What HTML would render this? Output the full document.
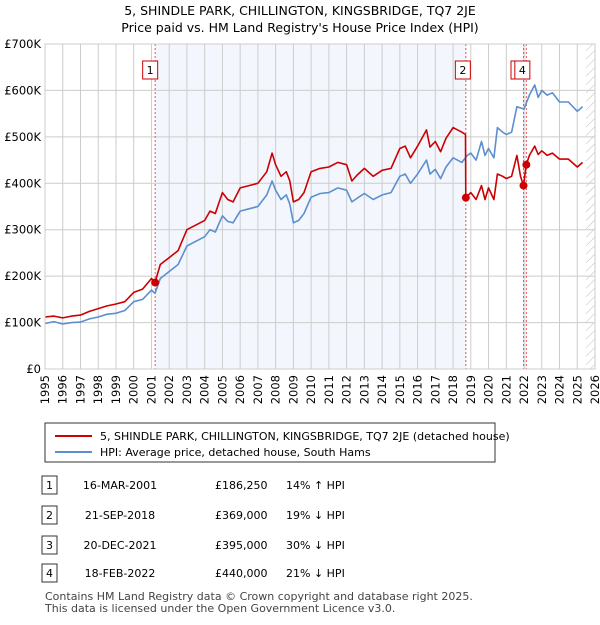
<!DOCTYPE html>
<html><head><meta charset="utf-8"><style>
body{margin:0;background:#fff;font-family:"Liberation Sans","DejaVu Sans",sans-serif;}
svg text{font-family:"DejaVu Sans","Liberation Sans",sans-serif;}
</style></head><body>
<svg id="c" width="600" height="620" xmlns="http://www.w3.org/2000/svg">
<text x="300" y="15" text-anchor="middle" font-size="12.5">5, SHINDLE PARK, CHILLINGTON, KINGSBRIDGE, TQ7 2JE</text>
<text x="300" y="32" text-anchor="middle" font-size="12.5">Price paid vs. HM Land Registry's House Price Index (HPI)</text>
<g id="plot"></g>
<g>
<rect x="45" y="423" width="450" height="39" fill="#fff" stroke="#333" stroke-width="1"/>
<line x1="55" y1="436" x2="92" y2="436" stroke="#cc0000" stroke-width="2"/>
<text x="100" y="440" font-size="11">5, SHINDLE PARK, CHILLINGTON, KINGSBRIDGE, TQ7 2JE (detached house)</text>
<line x1="55" y1="452" x2="92" y2="452" stroke="#5b8fd0" stroke-width="2"/>
<text x="100" y="456" font-size="11">HPI: Average price, detached house, South Hams</text>
</g>
<g id="tbl" font-size="11"></g>
<text x="45" y="600" font-size="11" fill="#444">Contains HM Land Registry data © Crown copyright and database right 2025.</text>
<text x="45" y="612" font-size="11" fill="#444">This data is licensed under the Open Government Licence v3.0.</text>
</svg>
<script>
const hpiYears=[1995,1995.5,1996,1996.5,1997,1997.5,1998,1998.5,1999,1999.5,2000,2000.5,2001,2001.2,2001.5,2002,2002.5,2003,2003.5,2004,2004.3,2004.6,2005,2005.3,2005.6,2006,2006.5,2007,2007.5,2007.8,2008,2008.3,2008.6,2008.8,2009,2009.3,2009.6,2010,2010.5,2011,2011.5,2012,2012.3,2012.6,2013,2013.5,2014,2014.5,2015,2015.3,2015.6,2016,2016.5,2016.7,2017,2017.3,2017.6,2018,2018.5,2018.8,2019,2019.3,2019.6,2019.8,2020,2020.3,2020.5,2020.8,2021,2021.3,2021.6,2022,2022.3,2022.6,2022.8,2023,2023.3,2023.6,2024,2024.5,2025,2025.3];
const hpiValues=[98,102,97,100,101,108,112,118,120,126,145,150,170,163,195,210,225,265,275,285,300,295,330,318,315,340,345,350,375,405,385,365,375,355,315,320,335,370,378,380,390,385,360,368,378,365,375,380,415,420,400,420,450,420,430,410,435,455,445,460,465,450,490,460,475,455,520,510,505,510,565,560,590,612,585,600,590,595,575,575,555,565];
const ppYears=[1995,1995.5,1996,1996.5,1997,1997.5,1998,1998.5,1999,1999.5,2000,2000.5,2001,2001.2,2001.5,2002,2002.5,2003,2003.5,2004,2004.3,2004.6,2005,2005.3,2005.6,2006,2006.5,2007,2007.5,2007.8,2008,2008.3,2008.6,2008.8,2009,2009.3,2009.6,2010,2010.5,2011,2011.5,2012,2012.3,2012.6,2013,2013.5,2014,2014.5,2015,2015.3,2015.6,2016,2016.5,2016.7,2017,2017.3,2017.6,2018,2018.5,2018.7,2018.72,2019,2019.3,2019.6,2019.8,2020,2020.3,2020.5,2020.8,2021,2021.3,2021.6,2021.8,2021.97,2022.13,2022.3,2022.6,2022.8,2023,2023.3,2023.6,2024,2024.5,2025,2025.3];
const ppValues=[112,114,110,114,116,124,130,136,140,145,165,172,195,186,225,240,255,300,310,320,340,335,380,365,360,390,395,400,425,465,440,415,425,405,360,365,380,425,432,435,445,440,405,418,432,415,428,432,475,480,455,480,515,478,490,468,497,520,510,505,369,380,365,395,365,390,365,420,415,410,415,460,415,395,440,460,480,462,470,460,465,452,452,435,445];
const saleYears=[2001.21,2018.72,2021.97,2022.13];
const salePrices=[186.25,369,395,440];
const saleLabels=["1","2","3","4"];
const saleDates=["16-MAR-2001","21-SEP-2018","20-DEC-2021","18-FEB-2022"];
const salePriceText=["£186,250","£369,000","£395,000","£440,000"];
const saleHpiText=["14% ↑ HPI","19% ↓ HPI","30% ↓ HPI","21% ↓ HPI"];
const yTicks=[0,100,200,300,400,500,600,700];
const yTickLabels=["£0","£100K","£200K","£300K","£400K","£500K","£600K","£700K"];
const NS="http://www.w3.org/2000/svg";
const X0=45,X1=595,Y0=369,Y1=44;
const xs=y=>X0+(y-1995)/(2026-1995)*(X1-X0);
const ys=v=>Y0-v/700*(Y0-Y1);
const P=document.getElementById('plot');
function mk(tag,at,parent){const e=document.createElementNS(NS,tag);for(const k in at)e.setAttribute(k,at[k]);(parent||P).appendChild(e);return e;}
let e;
e=mk('rect',{x:xs(saleYears[0]),y:Y1,width:xs(saleYears[1])-xs(saleYears[0]),height:Y0-Y1,fill:'#eef3fc',opacity:0.7});


e=mk('rect',{x:xs(saleYears[2]),y:Y1,width:xs(saleYears[3])-xs(saleYears[2]),height:Y0-Y1,fill:'#eef3fc'});


const defs=mk('defs',{});
const pat=mk('pattern',{id:'h',width:6,height:6,patternUnits:'userSpaceOnUse',patternTransform:'rotate(45)'},defs);
mk('line',{x1:0,y1:0,x2:0,y2:6,stroke:'#bbb','stroke-width':1},pat);
e=mk('rect',{x:xs(2025.5),y:Y1,width:X1-xs(2025.5),height:Y0-Y1,fill:'url(#h)'});


for(let yr=1995;yr<=2026;yr++){
 e=mk('line',{x1:xs(yr),x2:xs(yr),y1:Y1,y2:Y0,stroke:'#ccc','stroke-width':1});
 
 
 const x=xs(yr);
 e=mk('text',{x:x,y:Y0+6,'font-size':11.5,'text-anchor':'end'});
 e.textContent=yr;
 e.setAttribute('transform',`rotate(-90 ${x} ${Y0+6}) translate(0 4)`);
 
 
}
yTicks.forEach((v,i)=>{
 e=mk('line',{x1:X0,x2:X1,y1:ys(v),y2:ys(v),stroke:'#ccc','stroke-width':1});
 
 
 e=mk('text',{x:X0-4,y:ys(v)+4,'font-size':11.5,'text-anchor':'end'});
 e.textContent=yTickLabels[i];
 
 
});
saleYears.forEach((y,i)=>{
 e=mk('line',{x1:xs(y),x2:xs(y),y1:Y1,y2:Y0,stroke:'#e85555','stroke-width':1,'stroke-dasharray':'2,2'});
 
 
});
function path(xsA,vs,color,name){
 const d=xsA.map((y,i)=>(i?'L':'M')+xs(y).toFixed(1)+','+ys(vs[i]).toFixed(1)).join('');
 const p=mk('path',{d:d,fill:'none',stroke:color,'stroke-width':1.6,'stroke-linejoin':'round'});
 
 
}
path(hpiYears,hpiValues,'#5b8fd0','hpi-line');
path(ppYears,ppValues,'#cc0000','price-paid-line');
saleYears.forEach((y,i)=>{
 e=mk('circle',{cx:xs(y),cy:ys(salePrices[i]),r:4,fill:'#cc0000'});
 
 
});
const boxOff=[-5,-3,-5,-4];
saleYears.forEach((y,i)=>{
 const cx=xs(y)+boxOff[i];
 const g=mk('g',{});
 
 
 mk('rect',{x:cx-7.5,y:61,width:15,height:18,fill:'#fff',stroke:'#cc0000','stroke-width':1},g);
 const t=mk('text',{x:cx,y:74,'font-size':11,'text-anchor':'middle'},g);t.textContent=saleLabels[i];
});
mk('rect',{x:X0,y:Y1,width:X1-X0,height:Y0-Y1,fill:'none',stroke:'#ccc'});
const T=document.getElementById('tbl');
const rowY=[487,517,547,575];
saleYears.forEach((y,i)=>{
 const g=mk('g',{},T);
 
 
 mk('rect',{x:42,y:rowY[i]-11,width:15,height:18,fill:'#fff',stroke:'#333'},g);
 let t=mk('text',{x:49.5,y:rowY[i]+2,'text-anchor':'middle'},g);t.textContent=saleLabels[i];
 t=mk('text',{x:120,y:rowY[i]+2,'text-anchor':'middle'},g);t.textContent=saleDates[i];
 t=mk('text',{x:215,y:rowY[i]+2},g);t.textContent=salePriceText[i];
 t=mk('text',{x:286,y:rowY[i]+2},g);t.textContent=saleHpiText[i];
});
</script>
</body></html>
